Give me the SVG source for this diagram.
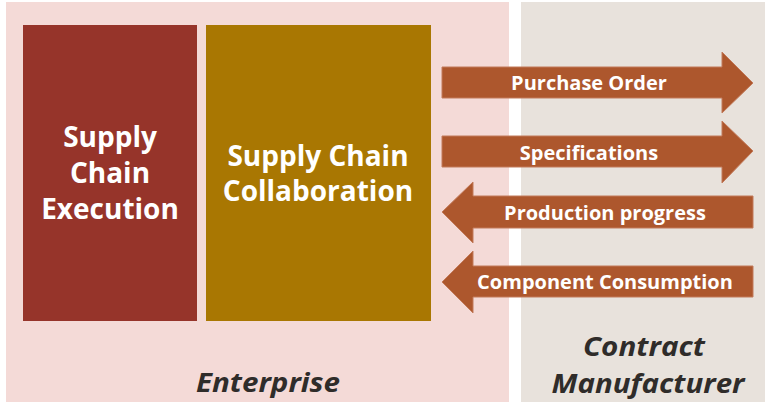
<svg xmlns="http://www.w3.org/2000/svg" width="765" height="402" viewBox="0 0 765 402">
<style>
.box{font-family:"Open Sans","Noto Sans",sans-serif;font-weight:bold;font-size:28px;fill:#ffffff;text-anchor:middle}
.lbl{font-family:"Open Sans","Noto Sans",sans-serif;font-weight:bold;font-size:20px;fill:#ffffff;text-anchor:middle}
.zone{font-family:"Open Sans","Noto Sans",sans-serif;font-weight:bold;font-style:italic;font-size:27px;fill:#2f2c2a;text-anchor:middle}
.arrow{fill:#ad572d;stroke:#c27a5a;stroke-width:1}
</style>
<rect width="765" height="402" fill="#ffffff"/>
<g id="enterprise">
<rect x="6" y="2" width="503" height="400" fill="#f4dad7"/>
<text class="zone" x="268" y="392" textLength="144" lengthAdjust="spacingAndGlyphs">Enterprise</text>
</g>
<g id="manufacturer">
<rect x="521" y="2" width="244" height="400" fill="#e8e2dc"/>
<text class="zone" x="644" y="356" textLength="122" lengthAdjust="spacingAndGlyphs">Contract</text>
<text class="zone" x="648" y="393" textLength="193" lengthAdjust="spacingAndGlyphs">Manufacturer</text>
</g>
<g id="execution">
<rect x="23" y="25" width="174" height="296" fill="#96342a"/>
<text class="box"><tspan x="110" y="147">Supply</tspan><tspan x="110" y="183">Chain</tspan><tspan x="110" y="219">Execution</tspan></text>
</g>
<g id="collaboration">
<rect x="206" y="25" width="225" height="296" fill="#a97702"/>
<text class="box"><tspan x="318" y="166">Supply Chain</tspan><tspan x="318" y="201">Collaboration</tspan></text>
</g>
<g id="connectors">
<g id="purchase-order">
<polygon class="arrow" points="442,67 722,67 722,52 753,83 722,113 722,98 442,98"/>
<text class="lbl" x="589" y="90">Purchase Order</text>
</g>
<g id="specifications">
<polygon class="arrow" points="442,136 722,136 722,121 753,151 722,183 722,167 442,167"/>
<text class="lbl" x="589" y="160">Specifications</text>
</g>
<g id="production-progress">
<polygon class="arrow" points="753,196 473,196 473,182 442,212 473,243 473,228 753,228"/>
<text class="lbl" x="605" y="220">Production progress</text>
</g>
<g id="component-consumption">
<polygon class="arrow" points="753,266 473,266 473,251 442,282 473,313 473,297 753,297"/>
<text class="lbl" x="605" y="289">Component Consumption</text>
</g>
</g>
</svg>
